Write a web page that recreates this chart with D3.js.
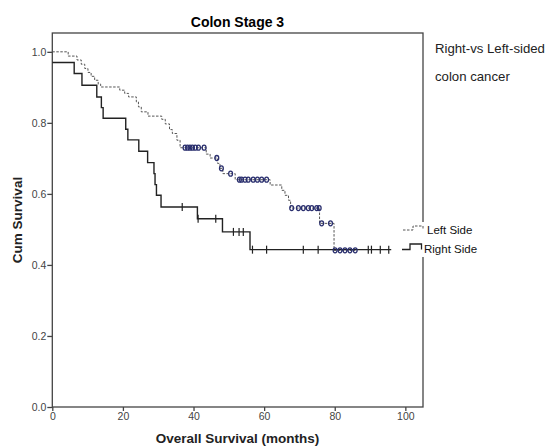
<!DOCTYPE html>
<html>
<head>
<meta charset="utf-8">
<script src="https://cdn.jsdelivr.net/npm/d3@7"></script>
<style>
  body { margin: 0; background: #fff; }
  text { font-family: Arial, "Liberation Sans", sans-serif; }
</style>
</head>
<body>
<div id="kmChart"></div>
<script>
// step points (months, cumulative survival)
var rightTimes = [0, 6.2, 8.4, 12.6, 13.9, 14.4, 20.8, 21.4, 24.5, 27.0, 28.8, 29.1, 29.5, 30.8, 41.1, 48.2, 56.0];
var rightSurv  = [0.970, 0.939, 0.906, 0.873, 0.843, 0.813, 0.782, 0.752, 0.720, 0.688, 0.657, 0.626, 0.596, 0.563, 0.530, 0.493, 0.443];
var rightEnd = 96;
var rightCensor = [36.8, 41.3, 46.3, 51.3, 52.9, 54.1, 56.7, 60.7, 71.1, 75.3, 89.5, 90.4, 92.9, 95.3];

var leftTimes = [0, 4.5, 7.0, 8.2, 9.2, 10.1, 11.0, 12.0, 13.0, 13.7, 19.1, 20.5, 21.6, 23.8, 24.4, 25.2, 27.1,
                 31.0, 32.0, 33.2, 34.0, 35.3, 36.2, 43.6, 44.7, 46.8, 47.5, 48.3, 51.8, 61.7, 65.0, 65.9, 66.9, 67.5, 75.7, 79.8];
var leftSurv  = [1.0, 0.988, 0.977, 0.965, 0.953, 0.942, 0.931, 0.920, 0.909, 0.901, 0.892, 0.883, 0.873, 0.859, 0.845, 0.831, 0.819,
                 0.810, 0.797, 0.781, 0.770, 0.751, 0.730, 0.712, 0.701, 0.686, 0.672, 0.657, 0.640, 0.625, 0.610, 0.596, 0.582, 0.560, 0.517, 0.441];
var leftEnd = 85.8;
var leftCensor = [37.6, 38.3, 39.0, 39.7, 40.5, 41.4, 43.0, 46.6, 47.9, 50.5,
                  53.0, 53.6, 54.6, 55.5, 56.9, 58.1, 59.3, 60.7,
                  67.8, 69.7, 71.1, 72.5, 73.5, 74.9, 75.6, 76.3, 78.8,
                  80.1, 81.5, 82.9, 84.3, 85.8];

var xTicks = [0, 20, 40, 60, 80, 100];
var yTicks = [0, 0.2, 0.4, 0.6, 0.8, 1.0];

var margin = {top: 33, right: 125, bottom: 40, left: 52.3},
    width = 548 - margin.left - margin.right,
    height = 447 - margin.top - margin.bottom;

var svg = d3.select("#kmChart")
  .append("svg")
  .attr("width", 548)
  .attr("height", 447)
  .append("g")
  .attr("transform", "translate(" + margin.left + "," + margin.top + ")");

var x = d3.scaleLinear().domain([0, 105]).range([0, width]);
var y = d3.scaleLinear().domain([0, 1.053]).range([height, 0]);

// frame
svg.append("rect")
  .attr("x", 0).attr("y", 0)
  .attr("width", width).attr("height", height)
  .attr("fill", "none")
  .attr("stroke", "#444")
  .attr("stroke-width", 1.3);

// axes
var xAxis = svg.append("g")
  .attr("transform", "translate(0," + height + ")")
  .call(d3.axisBottom(x).tickValues(xTicks).tickSize(4).tickPadding(2));
var yAxis = svg.append("g")
  .call(d3.axisLeft(y).tickValues(yTicks).tickSize(5).tickPadding(1).tickFormat(d3.format(".1f")));
[xAxis, yAxis].forEach(function(a) {
  a.select(".domain").remove();
  a.selectAll("line").attr("stroke", "#444").attr("stroke-width", 1.3);
  a.selectAll("text").attr("fill", "#444").style("font-size", "10.5px");
});

// step value at time t
function survAt(times, surv, t) {
  var i = d3.bisectRight(times, t) - 1;
  return surv[Math.max(i, 0)];
}

function stepPoints(times, surv, end) {
  var pts = times.map(function(t, i) { return [t, surv[i]]; });
  pts.push([end, surv[surv.length - 1]]);
  return pts;
}

var line = d3.line()
  .x(function(d) { return x(d[0]); })
  .y(function(d) { return y(d[1]); })
  .curve(d3.curveStepAfter);

// left side curve (dashed)
svg.append("path")
  .datum(stepPoints(leftTimes, leftSurv, leftEnd))
  .attr("d", line)
  .attr("fill", "none")
  .attr("stroke", "#555")
  .attr("stroke-width", 1)
  .attr("stroke-dasharray", "2.5,1.5");

// right side curve (solid)
svg.append("path")
  .datum(stepPoints(rightTimes, rightSurv, rightEnd))
  .attr("d", line)
  .attr("fill", "none")
  .attr("stroke", "#222")
  .attr("stroke-width", 1.4);

// censored marks
svg.selectAll(".censL")
  .data(leftCensor)
  .enter()
  .append("ellipse")
  .attr("cx", function(d) { return x(d); })
  .attr("cy", function(d) { return y(survAt(leftTimes, leftSurv, d)); })
  .attr("rx", 1.9)
  .attr("ry", 2.5)
  .attr("fill", "none")
  .attr("stroke", "#2a2f6e")
  .attr("stroke-width", 1.3);

svg.selectAll(".censR")
  .data(rightCensor)
  .enter()
  .append("line")
  .attr("x1", function(d) { return x(d); })
  .attr("x2", function(d) { return x(d); })
  .attr("y1", function(d) { return y(survAt(rightTimes, rightSurv, d)) - 4; })
  .attr("y2", function(d) { return y(survAt(rightTimes, rightSurv, d)) + 4; })
  .attr("stroke", "#222")
  .attr("stroke-width", 1.2);

// legend
var lg = svg.append("g").attr("transform", "translate(" + (-margin.left) + "," + (-margin.top) + ")");
lg.append("rect").attr("x", 417).attr("y", 222).attr("width", 110).attr("height", 35).attr("fill", "#fff");
lg.append("path")
  .attr("d", "M403,230H413V226H423V230")
  .attr("fill", "none").attr("stroke", "#555").attr("stroke-width", 1).attr("stroke-dasharray", "2.5,1.5");
lg.append("path")
  .attr("d", "M402,249.5H410V244H421.5V249.5")
  .attr("fill", "none").attr("stroke", "#222").attr("stroke-width", 1.3);
lg.append("text").attr("x", 427).attr("y", 234).text("Left Side").style("font-size", "11.5px").attr("fill", "#111");
lg.append("text").attr("x", 424).attr("y", 253).text("Right Side").style("font-size", "11.5px").attr("fill", "#111");

// titles
lg.append("text")
  .attr("x", 237.5).attr("y", 27)
  .attr("text-anchor", "middle")
  .style("font-size", "14px").style("font-weight", "bold")
  .text("Colon Stage 3");
lg.append("text")
  .attr("x", 237.5).attr("y", 443)
  .attr("text-anchor", "middle")
  .style("font-size", "13.5px").style("font-weight", "bold")
  .attr("fill", "#222")
  .text("Overall Survival (months)");
lg.append("text")
  .attr("transform", "translate(22,220)rotate(-90)")
  .attr("text-anchor", "middle")
  .style("font-size", "13.5px").style("font-weight", "bold")
  .attr("fill", "#222")
  .text("Cum Survival");

// note at right
lg.append("text").attr("x", 435).attr("y", 53).style("font-size", "13.2px").attr("fill", "#222").text("Right-vs Left-sided");
lg.append("text").attr("x", 435).attr("y", 81).style("font-size", "13.2px").attr("fill", "#222").text("colon cancer");
</script>
</body>
</html>
